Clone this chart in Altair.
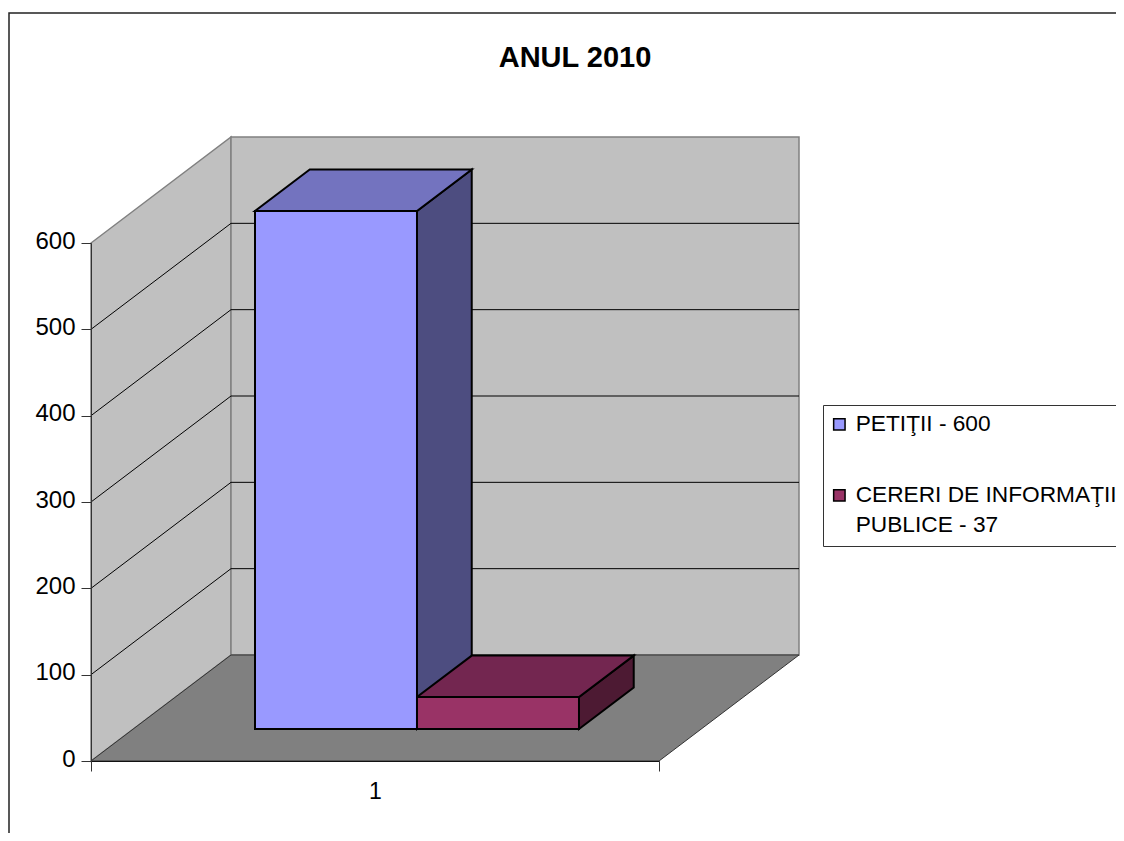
import altair as alt
import pandas as pd

TITLE = "ANUL 2010"
SERIES = ["PETIŢII - 600", "CERERI DE INFORMAŢII\nPUBLICE - 37"]
VALUES = [600, 37]
FRONT = ["#9999FF", "#993366"]
TOPS = ["#7373BF", "#732650"]
SIDES = ["#4D4D80", "#4D1A33"]
GRID = [100, 200, 300, 400, 500]
Y_TICKS = [0, 100, 200, 300, 400, 500, 600]
MAX_V = 600
DX = 140 / 568      # horizontal shift of the full chart depth, in x units
DV = 106 / 518 * 600  # vertical shift of the full chart depth, in value units
BAR_START = 0.2143
BAR_W = 0.2852
D_FRONT = 0.302
D_BACK = 0.693
FONT = "Liberation Sans"

xs = alt.Scale(domain=[0, 1], nice=False, zero=False)
ys = alt.Scale(domain=[0, MAX_V], nice=False, zero=False)


def X(f="x", **k):
    return alt.X(f"{f}:Q", scale=xs, **k)


def Y(f="y", **k):
    return alt.Y(f"{f}:Q", scale=ys, **k)


X_AXIS = alt.Axis(values=[0, 0.5, 1], title=None, grid=False, tickSize=10, domainColor="#111111",
                  tickColor="#333333", tickOpacity={"condition": {"test": "datum.value == 0.5", "value": 0}, "value": 1},
                  labelExpr="datum.value == 0.5 ? '1' : ''", labelFont=FONT, labelFontSize=23, labelColor="black",
                  labelPadding=9, labelAngle=0, zindex=1)
Y_AXIS = alt.Axis(values=Y_TICKS, title=None, grid=False, tickSize=10, domainColor="#333333", tickColor="#333333",
                  labelFont=FONT, labelFontSize=24, labelColor="black", labelPadding=6, labelOffset=-2, format="d", zindex=1)

WALL = dict(fill="#C0C0C0", stroke="#808080", strokeWidth=1.5)

left_wall = alt.Chart(pd.DataFrame({"x": [0, DX], "y": [0, DV], "y2": [MAX_V, MAX_V + DV]})).mark_area(
    orient="vertical", **WALL).encode(x=X(axis=X_AXIS), y=Y(axis=Y_AXIS), y2="y2:Q")
back_wall = alt.Chart(pd.DataFrame({"x": [DX, 1 + DX], "y": [DV, DV], "y2": [MAX_V + DV, MAX_V + DV]})).mark_area(
    orient="vertical", **WALL).encode(x=X(), y=Y(), y2="y2:Q")
floor = alt.Chart(pd.DataFrame({"y": [0, DV], "x": [0, DX], "x2": [1, 1 + DX]})).mark_area(
    orient="horizontal", fill="#808080", stroke="#333333", strokeWidth=1).encode(y=Y(), x=X(), x2="x2:Q")

grid_rows = []
for g in GRID:
    grid_rows += [
        {"g": g, "o": 0, "x": 0, "y": g},
        {"g": g, "o": 1, "x": DX, "y": g + DV},
        {"g": g, "o": 2, "x": 1 + DX, "y": g + DV},
    ]
grid = alt.Chart(pd.DataFrame(grid_rows)).mark_line(color="black", strokeWidth=1).encode(
    x=X(), y=Y(), detail="g:N", order="o:Q")

layers = [left_wall, back_wall, floor, grid]

BAR = dict(stroke="black", strokeWidth=2, strokeJoin="miter")
for i, v in enumerate(VALUES):
    x0 = BAR_START + i * BAR_W
    x1 = x0 + BAR_W
    side = pd.DataFrame({"x": [x1 + D_FRONT * DX, x1 + D_BACK * DX],
                         "y": [D_FRONT * DV, D_BACK * DV],
                         "y2": [v + D_FRONT * DV, v + D_BACK * DV]})
    layers.append(alt.Chart(side).mark_area(orient="vertical", fill=SIDES[i], **BAR).encode(x=X(), y=Y(), y2="y2:Q"))
    top = pd.DataFrame({"y": [v + D_FRONT * DV, v + D_BACK * DV],
                        "x": [x0 + D_FRONT * DX, x0 + D_BACK * DX],
                        "x2": [x1 + D_FRONT * DX, x1 + D_BACK * DX]})
    layers.append(alt.Chart(top).mark_area(orient="horizontal", fill=TOPS[i], **BAR).encode(y=Y(), x=X(), x2="x2:Q"))

fronts = pd.DataFrame({
    "series": SERIES,
    "x": [BAR_START + i * BAR_W + D_FRONT * DX for i in range(len(VALUES))],
    "x2": [BAR_START + (i + 1) * BAR_W + D_FRONT * DX for i in range(len(VALUES))],
    "y": [D_FRONT * DV] * len(VALUES),
    "y2": [v + D_FRONT * DV for v in VALUES],
})
legend = alt.Legend(title=None, orient="none", legendX=732, legendY=162, symbolType="square", symbolSize=130,
                    symbolStrokeColor="black", symbolStrokeWidth=1.5, symbolOpacity=1, symbolOffset=-3, labelFont=FONT,
                    labelFontSize=22.7, labelColor="black", labelLimit=600, labelExpr="split(datum.label, '\\n')",
                    fillColor="white", strokeColor="#333333", padding=8, rowPadding=47, labelOffset=5)
layers.append(alt.Chart(fronts).mark_rect(**BAR).encode(
    x=X(), x2="x2:Q", y=Y(), y2="y2:Q",
    color=alt.Color("series:N", sort=SERIES, scale=alt.Scale(domain=SERIES, range=FRONT), legend=legend)))

frame = alt.Chart(pd.DataFrame({"a": [0]})).mark_rect(fillOpacity=0, stroke="#222222", strokeWidth=1.5).encode(
    x=alt.value(-82), x2=alt.value(1300), y=alt.value(-230), y2=alt.value(800))
layers.insert(0, frame)

chart = alt.layer(*layers).properties(
    width=568, height=518,
    title=alt.TitleParams(TITLE, font=FONT, fontSize=29, fontWeight="bold", color="black", anchor="middle",
                          frame="group", dx=200, offset=0, dy=61),
    autosize=alt.AutoSizeParams(type="none"),
    padding={"left": 83, "top": 235, "right": 457, "bottom": 72},
).configure_view(stroke=None).configure(style={"guide-label": {"lineHeight": 30}})

chart.save("out.html", embed_options={"renderer": "svg", "actions": False})
